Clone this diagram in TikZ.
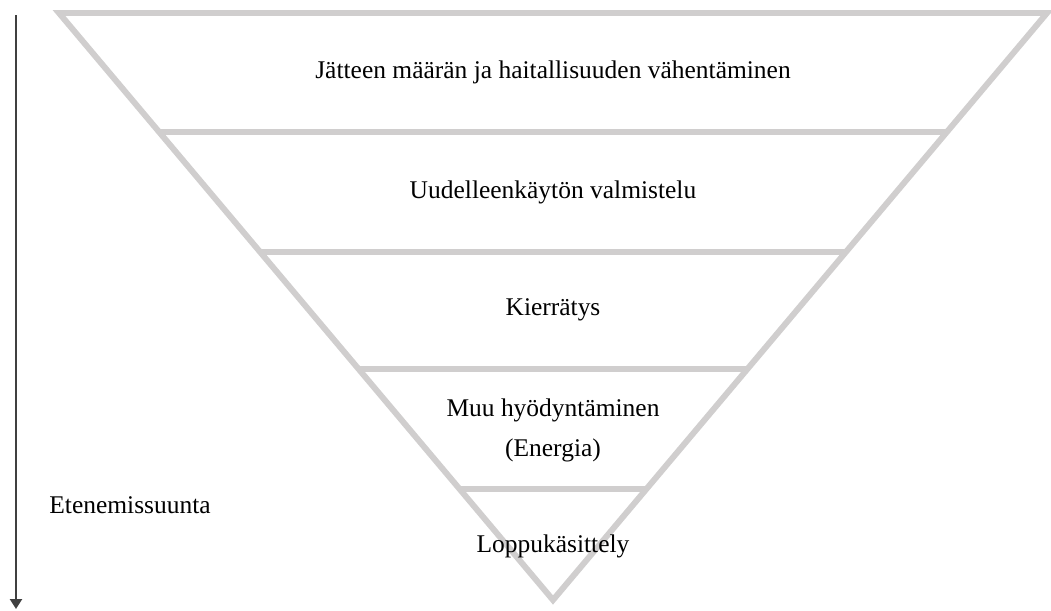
\documentclass[tikz,border=0pt]{standalone}
\usepackage{fontspec}
\setmainfont{Liberation Serif}
\usetikzlibrary{arrows.meta, calc}
\definecolor{bandgray}{HTML}{D0CECE}
\definecolor{arrowgray}{HTML}{404040}
\tikzset{
  band/.style={draw=bandgray, line width=3.4pt, line join=miter},
  level/.style={font=\fontsize{14.5}{22.7}\selectfont, align=center, inner sep=0pt},
  flow/.style={draw=arrowgray, line width=1.7pt,
    -{Triangle[width=6.8pt, length=5.7pt]}},
}

\begin{document}
\begin{tikzpicture}[x=0.02cm, y=-0.02cm]
  \useasboundingbox (0,0) rectangle (1051,610);

  % ----- triangle corners ---------------------------------------------------
  \coordinate (tl) at (59,13);
  \coordinate (tr) at (1047,13);
  \coordinate (ap) at (553,600);

  % ----- outline and band boundaries ----------------------------------------
  \draw[band] (tl) -- (tr) -- (ap) -- cycle;
  \foreach \t in {0.2027, 0.4072, 0.6065, 0.8109}
    \draw[band] ($(tl)!\t!(ap)$) -- ($(tr)!\t!(ap)$);

  % ----- level labels -------------------------------------------------------
  \node[level] (reduce)  at (553,72)  {Jätteen määrän ja haitallisuuden vähentäminen};
  \node[level] (reuse)   at (553,192) {Uudelleenkäytön valmistelu};
  \node[level] (recycle) at (553,310) {Kierrätys};
  \node[level] (energy)  at (553,430) {Muu hyödyntäminen\\(Energia)};
  \node[level] (final)   at (553,546) {Loppukäsittely};

  % ----- direction arrow ----------------------------------------------------
  \coordinate (dtop) at (16,15);
  \coordinate (dbot) at (16,609);
  \draw[flow] (dtop) -- (dbot);
  \node[level, anchor=west] (dir) at (49,505) {Etenemissuunta};

\end{tikzpicture}
\end{document}
